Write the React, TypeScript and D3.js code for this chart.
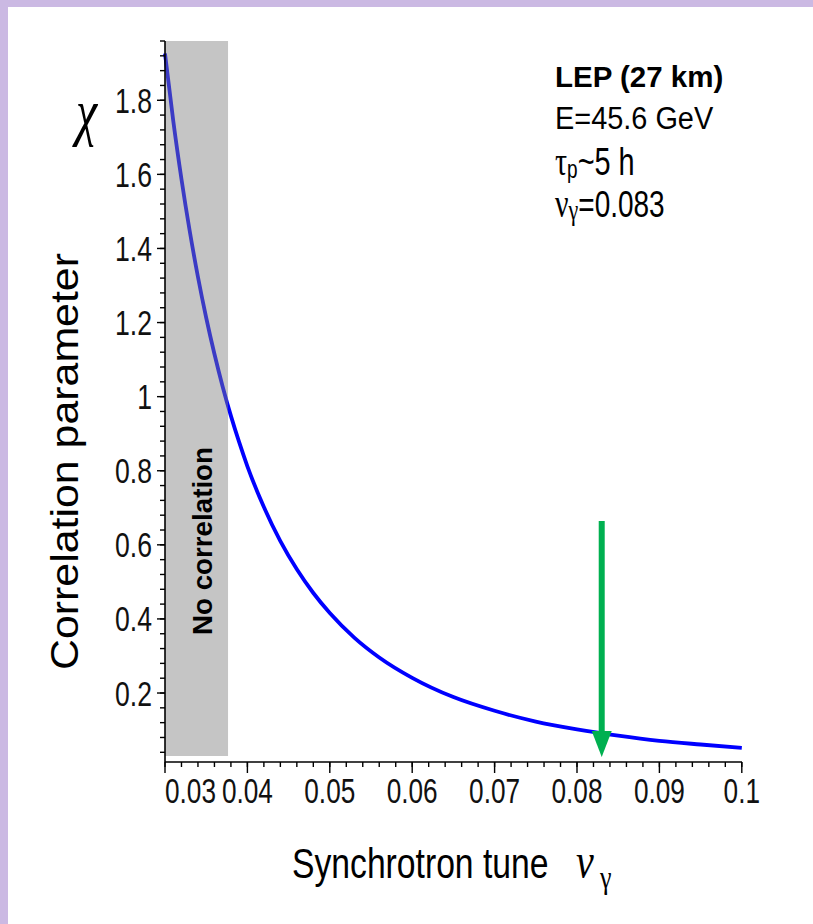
import React from "react";
import * as d3 from "d3";

// ---- data ----
const NU = [0.030, 0.031, 0.032, 0.033, 0.034, 0.035, 0.036, 0.037, 0.038, 0.039, 0.040, 0.042, 0.044, 0.046, 0.048, 0.050, 0.053, 0.056, 0.060, 0.065, 0.070, 0.075, 0.080, 0.085, 0.090, 0.095, 0.100];
const CHI = [1.926, 1.745, 1.587, 1.447, 1.323, 1.213, 1.115, 1.027, 0.948, 0.877, 0.812, 0.702, 0.610, 0.534, 0.470, 0.416, 0.349, 0.296, 0.241, 0.189, 0.152, 0.123, 0.102, 0.085, 0.071, 0.061, 0.052];

const X_TICKS = [0.03, 0.04, 0.05, 0.06, 0.07, 0.08, 0.09, 0.1];
const X_TICK_LABELS = ["0.03", "0.04", "0.05", "0.06", "0.07", "0.08", "0.09", "0.1"];
const Y_TICKS = [0.2, 0.4, 0.6, 0.8, 1.0, 1.2, 1.4, 1.6, 1.8];
const Y_TICK_LABELS = ["0.2", "0.4", "0.6", "0.8", "1", "1.2", "1.4", "1.6", "1.8"];

const X_DOMAIN = [0.03, 0.1];
const Y_DOMAIN = [0.0138, 1.96];

// shaded "no correlation" band
const BAND_NU = [0.03, 0.03765];
const BAND_CHI = [0.03, 1.96];

// green arrow at the LEP tune
const ARROW_NU = 0.083;
const ARROW_TOP = 0.664;
const ARROW_TIP = 0.027;

const SANS = "'Liberation Sans', Arial, Helvetica, sans-serif";
const SERIF = "'Liberation Serif', 'Times New Roman', serif";

export default function App() {
  const W = 813, H = 924;
  const x = d3.scaleLinear().domain(X_DOMAIN).range([165, 741.8]);
  const y = d3.scaleLinear().domain(Y_DOMAIN).range([762, 41]);

  const line = d3
    .line<number>()
    .x((_, i) => x(NU[i]))
    .y((d) => y(d))
    .curve(d3.curveMonotoneX);

  const xMinor = d3.range(0, 36).map((i) => 0.03 + i * 0.002);
  const yMinor = d3.range(1, 50).map((i) => i * 0.04);

  const ax = x(ARROW_NU);

  return (
    <svg
      width={W}
      height={H}
      style={{ position: "absolute", left: 0, top: 0, background: "#fff" }}
    >
      {/* frame */}
      <rect x={0} y={0} width={W} height={H} fill="#ffffff" />
      <rect x={0} y={0} width={W} height={7} fill="#cbb9e3" />
      <rect x={0} y={0} width={8} height={H} fill="#cbb9e3" />

      {/* curve */}
      <path d={line(CHI) || ""} fill="none" stroke="#0000ff" strokeWidth={3.8} />

      {/* band */}
      <rect
        x={x(BAND_NU[0])}
        y={y(BAND_CHI[1])}
        width={x(BAND_NU[1]) - x(BAND_NU[0])}
        height={y(BAND_CHI[0]) - y(BAND_CHI[1])}
        fill="#808080"
        fillOpacity={0.46}
      />
      <text
        transform={`translate(211.5,635) rotate(-90)`}
        fontFamily={SANS}
        fontWeight="bold"
        fontSize={27.5}
        fill="#000"
        textLength={188}
        lengthAdjust="spacingAndGlyphs"
      >
        No correlation
      </text>

      {/* axes */}
      <line x1={165} y1={41} x2={165} y2={762} stroke="#000" strokeWidth={1.6} />
      <line x1={165} y1={762} x2={742} y2={762} stroke="#000" strokeWidth={1.6} />
      {yMinor.map((v, i) => (
        <line key={"ym" + i} x1={160} x2={165} y1={y(v)} y2={y(v)} stroke="#000" strokeWidth={1.4} />
      ))}
      {Y_TICKS.map((v, i) => (
        <line key={"yM" + i} x1={157} x2={165} y1={y(v)} y2={y(v)} stroke="#000" strokeWidth={1.4} />
      ))}
      {xMinor.map((v, i) => (
        <line key={"xm" + i} x1={x(v)} x2={x(v)} y1={762} y2={767} stroke="#000" strokeWidth={1.4} />
      ))}
      {X_TICKS.map((v, i) => (
        <line key={"xM" + i} x1={x(v)} x2={x(v)} y1={762} y2={773} stroke="#000" strokeWidth={1.4} />
      ))}

      {/* y tick labels */}
      {Y_TICKS.map((v, i) => (
        <text
          key={"yl" + i}
          transform={`translate(152,${y(v) + 12.5}) scale(1,1.31)`}
          textAnchor="end"
          fontFamily={SANS}
          fontSize={26.6}
          fill="#111"
        >
          {Y_TICK_LABELS[i]}
        </text>
      ))}
      {/* x tick labels */}
      {X_TICKS.map((v, i) => (
        <text
          key={"xl" + i}
          transform={`translate(${i === 0 ? 165 : x(v)},803) scale(1,1.35)`}
          textAnchor={i === 0 ? "start" : "middle"}
          fontFamily={SANS}
          fontSize={26.2}
          fill="#111"
        >
          {X_TICK_LABELS[i]}
        </text>
      ))}

      {/* green arrow */}
      <line x1={ax} y1={y(ARROW_TOP)} x2={ax} y2={y(ARROW_TIP) - 22} stroke="#00b050" strokeWidth={6} />
      <path
        d={`M${ax - 10},${y(ARROW_TIP) - 26} L${ax + 10},${y(ARROW_TIP) - 26} L${ax},${y(ARROW_TIP)} Z`}
        fill="#00b050"
      />

      {/* axis titles */}
      <text
        transform={`translate(78,670) rotate(-90)`}
        fontFamily={SANS}
        fontSize={39}
        fill="#000"
        textLength={417}
        lengthAdjust="spacingAndGlyphs"
      >
        Correlation parameter
      </text>
      <text
        transform={`translate(76,133) scale(1,1.3)`}
        fontFamily={SERIF}
        fontStyle="italic"
        fontSize={48}
        fill="#000"
      >
        χ
      </text>
      <text transform={`translate(292,878) scale(1,1.25)`} fontFamily={SANS} fontSize={33.7} fill="#000">
        Synchrotron tune
      </text>
      <text
        transform={`translate(576,878) scale(1,1.25)`}
        fontFamily={SERIF}
        fontStyle="italic"
        fontSize={40}
        fill="#000"
      >
        ν
      </text>
      <text transform={`translate(600,888) scale(1,1.25)`} fontFamily={SERIF} fontSize={26} fill="#000">
        γ
      </text>

      {/* annotation */}
      <text x={555} y={87} fontFamily={SANS} fontWeight="bold" fontSize={29.5} fill="#000">
        LEP (27 km)
      </text>
      <text transform={`translate(555,129) scale(1,1.11)`} fontFamily={SANS} fontSize={28.9} fill="#000">
        E=45.6 GeV
      </text>
      <text transform={`translate(555,175) scale(1,1.35)`} fontFamily={SANS} fontSize={28.9} fill="#000">
        <tspan fontFamily={SERIF} fontSize={30}>τ</tspan>
        <tspan fontSize={19} dy={2}>p</tspan>
        <tspan dy={-2}>~5 h</tspan>
      </text>
      <text transform={`translate(555,217) scale(1,1.35)`} fontFamily={SANS} fontSize={28} fill="#000">
        <tspan fontFamily={SERIF} fontSize={30}>ν</tspan>
        <tspan fontFamily={SERIF} fontSize={22} dy={2}>γ</tspan>
        <tspan dy={-2}>=0.083</tspan>
      </text>
    </svg>
  );
}
